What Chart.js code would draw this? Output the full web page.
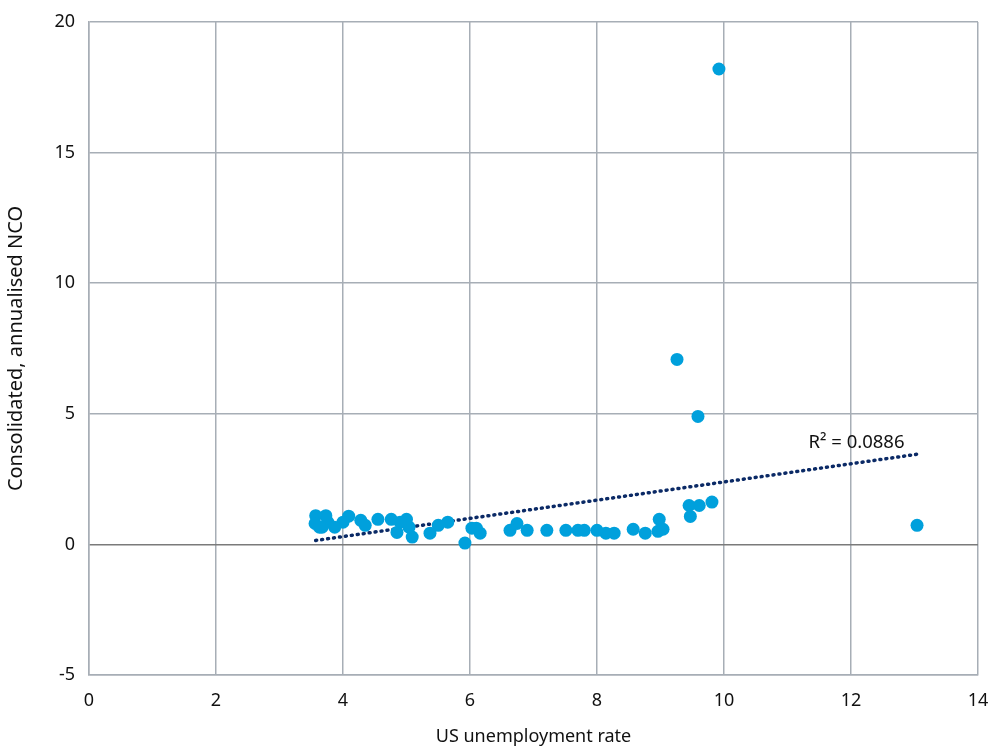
<!DOCTYPE html>
<html>
<head>
<meta charset="utf-8">
<script src="https://cdn.jsdelivr.net/npm/chart.js@4.4.0/dist/chart.umd.min.js"></script>
<style>
  html, body { margin: 0; padding: 0; background: #fff; }
  #wrap { width: 1000px; height: 755px; }
</style>
</head>
<body>
<div id="wrap"><canvas id="chart" width="1000" height="755"></canvas></div>
<script>
// US unemployment rate vs consolidated annualised NCO
const unemployment = [
  9.92, 9.26, 9.59, 13.04, 9.81, 9.61, 9.45, 9.47, 8.98, 8.96, 9.04, 8.57, 8.76,
  8.14, 8.27, 8.0, 7.8, 7.7, 7.51, 7.21, 6.9, 6.74, 6.63, 6.16, 6.1, 6.03, 5.92,
  5.65, 5.5, 5.37, 5.09, 5.0, 5.04, 4.9, 4.85, 4.76, 4.55, 4.35, 4.28, 4.09,
  4.0, 3.87, 3.76, 3.73, 3.67, 3.57, 3.56, 3.63
];
const nco = [
  18.2, 7.08, 4.9, 0.73, 1.62, 1.49, 1.49, 1.07, 0.96, 0.5, 0.58, 0.58, 0.43,
  0.43, 0.43, 0.54, 0.54, 0.54, 0.54, 0.54, 0.54, 0.8, 0.54, 0.43, 0.62, 0.62, 0.05,
  0.85, 0.73, 0.43, 0.28, 0.96, 0.66, 0.85, 0.46, 0.96, 0.96, 0.73, 0.92, 1.08,
  0.85, 0.66, 0.85, 1.1, 0.66, 1.1, 0.8, 0.66
];
// linear trend line end points and its label
const trendX = [3.57, 13.04];
const trendY = [0.15, 3.45];
const trendLabel = 'R² = 0.0886';
const xTicks = [0, 2, 4, 6, 8, 10, 12, 14];
const yTicks = [-5, 0, 5, 10, 15, 20];

const FONT = '"Noto Sans", Lato, sans-serif';

// draws the R² text next to the trend line
const r2Label = {
  id: 'r2Label',
  afterDatasetsDraw(chart) {
    const c = chart.ctx;
    const xs = chart.scales.x, ys = chart.scales.y;
    c.save();
    c.font = '18.5px ' + FONT;
    c.fillStyle = '#111';
    c.textAlign = 'left';
    c.textBaseline = 'middle';
    c.fillText(trendLabel, xs.getPixelForValue(11.33), ys.getPixelForValue(3.9));
    c.restore();
  }
};

new Chart(document.getElementById('chart'), {
  type: 'scatter',
  data: {
    datasets: [
      {
        label: 'NCO',
        data: unemployment.map((x, i) => ({ x: x, y: nco[i] })),
        backgroundColor: '#00a0dc',
        borderColor: '#00a0dc',
        borderWidth: 0,
        pointRadius: 6.5,
        pointHoverRadius: 6.5
      },
      {
        label: 'Trend',
        type: 'line',
        data: trendX.map((x, i) => ({ x: x, y: trendY[i] })),
        borderColor: '#0b2a66',
        borderWidth: 3.5,
        borderDash: [1, 5],
        borderCapStyle: 'round',
        pointRadius: 0,
        fill: false
      }
    ]
  },
  options: {
    responsive: false,
    animation: false,
    layout: { padding: { top: 22, right: 22, left: 0, bottom: 0 } },
    plugins: { legend: { display: false }, tooltip: { enabled: false } },
    scales: {
      x: {
        type: 'linear',
        min: 0, max: 14,
        afterBuildTicks: s => { s.ticks = xTicks.map(v => ({ value: v })); },
        afterFit: s => { s.height = 80; s.paddingLeft = 0; s.paddingRight = 0; },
        grid: { color: '#a7aeb6', lineWidth: 1.5, drawTicks: false },
        border: { color: '#a7aeb6', width: 1.5 },
        ticks: { padding: 15, color: '#111', font: { family: FONT, size: 18 } },
        title: {
          display: true, text: 'US unemployment rate', color: '#111',
          font: { family: FONT, size: 18 }, padding: { top: 0, bottom: 7 }
        }
      },
      y: {
        type: 'linear',
        min: -5, max: 20,
        afterBuildTicks: s => { s.ticks = yTicks.map(v => ({ value: v })); },
        afterFit: s => { s.width = 89; s.paddingTop = 0; s.paddingBottom = 0; },
        grid: {
          color: c => (c.tick && c.tick.value === 0 ? '#7a7a7a' : '#a7aeb6'),
          lineWidth: 1.5, drawTicks: false
        },
        border: { color: '#a7aeb6', width: 1.5 },
        ticks: { padding: 14, color: '#111', font: { family: FONT, size: 18 } },
        title: {
          display: true, text: 'Consolidated, annualised NCO', color: '#111',
          font: { family: FONT, size: 20 }, padding: { top: 4, bottom: 0 }
        }
      }
    }
  },
  plugins: [r2Label]
});
</script>
</body>
</html>
